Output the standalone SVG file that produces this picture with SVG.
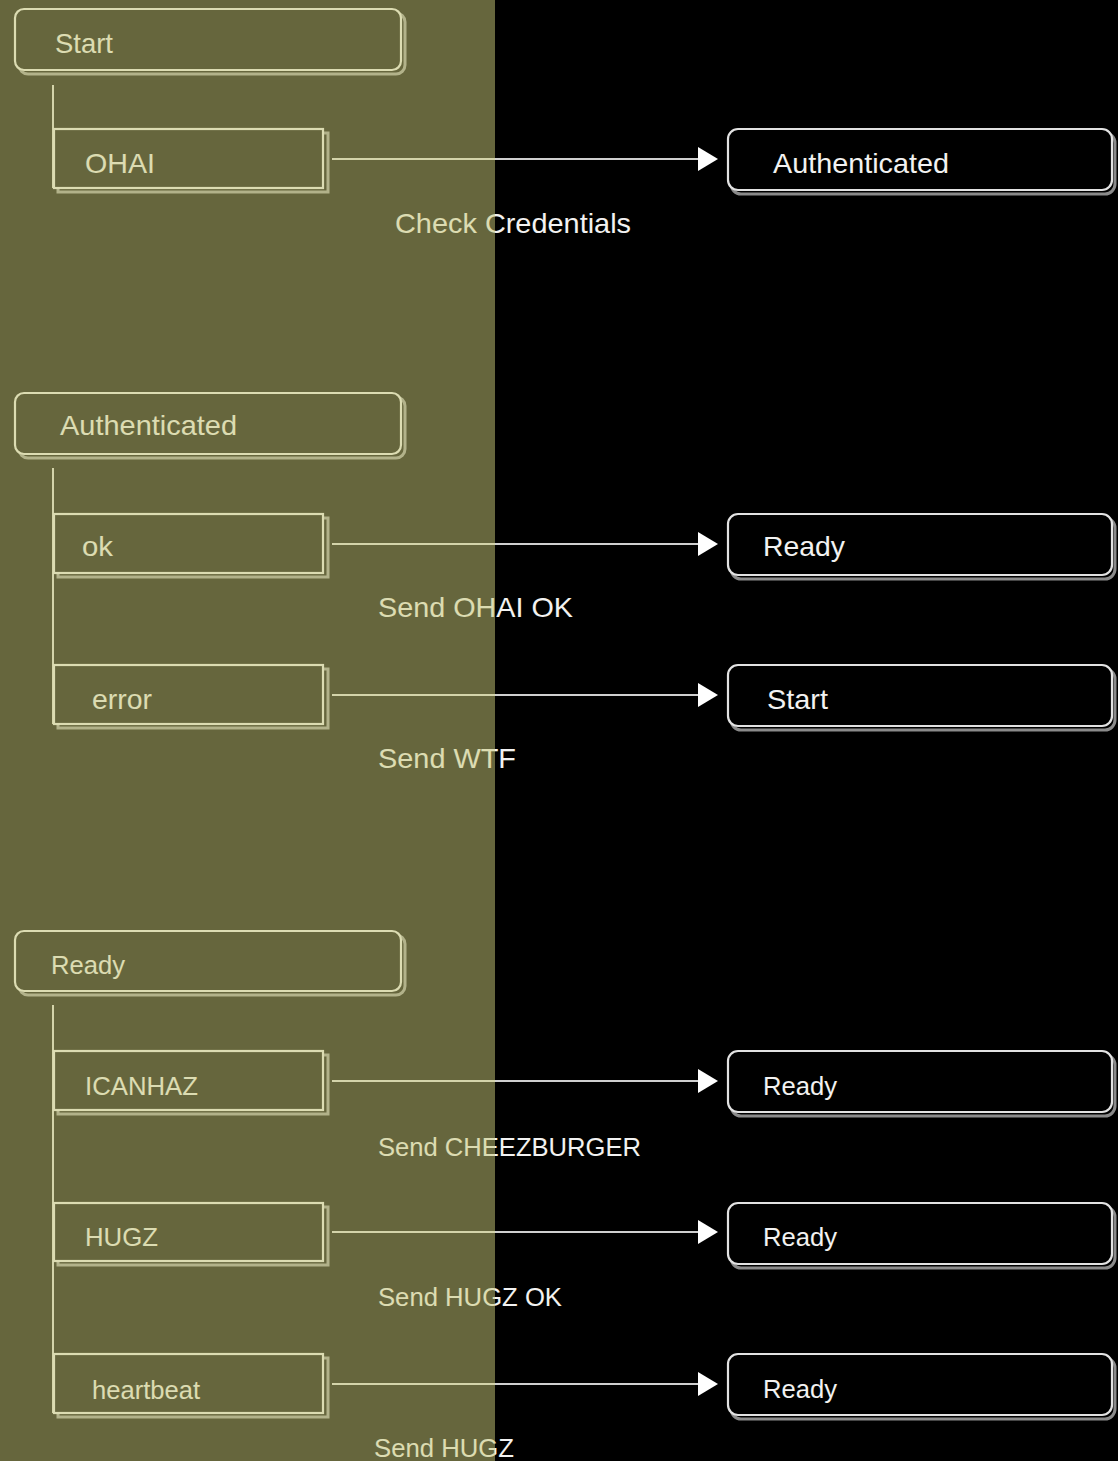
<svg xmlns="http://www.w3.org/2000/svg" width="1118" height="1461" viewBox="0 0 1118 1461">
<defs>
<linearGradient id="fg" gradientUnits="userSpaceOnUse" x1="0" y1="0" x2="1118" y2="0">
<stop offset="0" stop-color="#dcdcb2"/><stop offset="0.4428" stop-color="#dcdcb2"/>
<stop offset="0.4428" stop-color="#f2f2f2"/><stop offset="1" stop-color="#f2f2f2"/>
</linearGradient>
<linearGradient id="ln" gradientUnits="userSpaceOnUse" x1="0" y1="0" x2="1118" y2="0">
<stop offset="0" stop-color="#d4d4aa"/><stop offset="0.4428" stop-color="#d4d4aa"/>
<stop offset="0.4428" stop-color="#cfcfcf"/><stop offset="1" stop-color="#cfcfcf"/>
</linearGradient>
<marker id="arr" viewBox="0 0 20 24" refX="0" refY="12" markerWidth="20" markerHeight="24" markerUnits="userSpaceOnUse" orient="auto">
<path d="M0,0 L20,12 L0,24 Z" fill="#ffffff"/>
</marker>
<style>
text{font-family:"Liberation Sans",Arial,sans-serif;fill:url(#fg);}
.t28{font-size:28px;}
.t25{font-size:25px;}
.lshadow{fill:none;stroke:#b2b28a;stroke-width:3;}
.lmain{fill:#66663d;stroke:#dcdcb2;stroke-width:2.2;}
.rshadow{fill:none;stroke:#8a8a8a;stroke-width:3;}
.rmain{fill:#000;stroke:#e2e2e2;stroke-width:2.2;}
.tree{stroke:#d4d4aa;stroke-width:2;fill:none;}
.conn{stroke:url(#ln);stroke-width:2;fill:none;}
</style>
</defs>
<rect x="0" y="0" width="495" height="1461" fill="#66663d"/>
<rect x="495" y="0" width="623" height="1461" fill="#000000"/>

<g id="connectors">
<path class="tree" d="M53,85 V188 M53,468 V724 M53,1005 V1413"/>
<line class="conn" x1="332" y1="159" x2="698" y2="159" marker-end="url(#arr)"/>
<line class="conn" x1="332" y1="544" x2="698" y2="544" marker-end="url(#arr)"/>
<line class="conn" x1="332" y1="695" x2="698" y2="695" marker-end="url(#arr)"/>
<line class="conn" x1="332" y1="1081" x2="698" y2="1081" marker-end="url(#arr)"/>
<line class="conn" x1="332" y1="1232" x2="698" y2="1232" marker-end="url(#arr)"/>
<line class="conn" x1="332" y1="1384" x2="698" y2="1384" marker-end="url(#arr)"/>
<text class="t28" x="395" y="233" textLength="236" lengthAdjust="spacingAndGlyphs">Check Credentials</text>
<text class="t28" x="378" y="617" textLength="195" lengthAdjust="spacingAndGlyphs">Send OHAI OK</text>
<text class="t28" x="378" y="768" textLength="138" lengthAdjust="spacingAndGlyphs">Send WTF</text>
<text class="t25" x="378" y="1156" textLength="263" lengthAdjust="spacingAndGlyphs">Send CHEEZBURGER</text>
<text class="t25" x="378" y="1306" textLength="184" lengthAdjust="spacingAndGlyphs">Send HUGZ OK</text>
<text class="t25" x="374" y="1457" textLength="140" lengthAdjust="spacingAndGlyphs">Send HUGZ</text>
</g>

<g id="state-start">
<rect class="lshadow" x="19" y="13" width="386" height="61" rx="9"/>
<rect class="lmain" x="15" y="9" width="386" height="61" rx="9"/>
<text class="t28" x="55" y="53" textLength="58" lengthAdjust="spacingAndGlyphs">Start</text>
</g>
<g id="ev-ohai">
<rect class="lshadow" x="58" y="133" width="270" height="59"/>
<rect class="lmain" x="54" y="129" width="269" height="59"/>
<text class="t28" x="85" y="173" textLength="70" lengthAdjust="spacingAndGlyphs">OHAI</text>
</g>
<g id="to-authenticated">
<rect class="rshadow" x="731" y="133" width="384" height="61" rx="10"/>
<rect class="rmain" x="728" y="129" width="384" height="61" rx="10"/>
<text class="t28" x="773" y="173" textLength="176" lengthAdjust="spacingAndGlyphs">Authenticated</text>
</g>

<g id="state-authenticated">
<rect class="lshadow" x="19" y="397" width="386" height="61" rx="9"/>
<rect class="lmain" x="15" y="393" width="386" height="61" rx="9"/>
<text class="t28" x="60" y="435" textLength="177" lengthAdjust="spacingAndGlyphs">Authenticated</text>
</g>
<g id="ev-ok">
<rect class="lshadow" x="58" y="518" width="270" height="59"/>
<rect class="lmain" x="54" y="514" width="269" height="59"/>
<text class="t28" x="82" y="556" textLength="31" lengthAdjust="spacingAndGlyphs">ok</text>
</g>
<g id="to-ready-1">
<rect class="rshadow" x="731" y="518" width="384" height="61" rx="10"/>
<rect class="rmain" x="728" y="514" width="384" height="61" rx="10"/>
<text class="t28" x="763" y="556" textLength="82" lengthAdjust="spacingAndGlyphs">Ready</text>
</g>
<g id="ev-error">
<rect class="lshadow" x="58" y="669" width="270" height="59"/>
<rect class="lmain" x="54" y="665" width="269" height="59"/>
<text class="t28" x="92" y="709" textLength="60" lengthAdjust="spacingAndGlyphs">error</text>
</g>
<g id="to-start">
<rect class="rshadow" x="731" y="669" width="384" height="61" rx="10"/>
<rect class="rmain" x="728" y="665" width="384" height="61" rx="10"/>
<text class="t28" x="767" y="709" textLength="61" lengthAdjust="spacingAndGlyphs">Start</text>
</g>

<g id="state-ready">
<rect class="lshadow" x="19" y="935" width="386" height="60" rx="9"/>
<rect class="lmain" x="15" y="931" width="386" height="60" rx="9"/>
<text class="t25" x="51" y="974" textLength="74" lengthAdjust="spacingAndGlyphs">Ready</text>
</g>
<g id="ev-icanhaz">
<rect class="lshadow" x="58" y="1055" width="270" height="59"/>
<rect class="lmain" x="54" y="1051" width="269" height="59"/>
<text class="t25" x="85" y="1095" textLength="113" lengthAdjust="spacingAndGlyphs">ICANHAZ</text>
</g>
<g id="to-ready-2">
<rect class="rshadow" x="731" y="1055" width="384" height="61" rx="10"/>
<rect class="rmain" x="728" y="1051" width="384" height="61" rx="10"/>
<text class="t25" x="763" y="1095" textLength="74" lengthAdjust="spacingAndGlyphs">Ready</text>
</g>
<g id="ev-hugz">
<rect class="lshadow" x="58" y="1207" width="270" height="58"/>
<rect class="lmain" x="54" y="1203" width="269" height="58"/>
<text class="t25" x="85" y="1246" textLength="73" lengthAdjust="spacingAndGlyphs">HUGZ</text>
</g>
<g id="to-ready-3">
<rect class="rshadow" x="731" y="1207" width="384" height="61" rx="10"/>
<rect class="rmain" x="728" y="1203" width="384" height="61" rx="10"/>
<text class="t25" x="763" y="1246" textLength="74" lengthAdjust="spacingAndGlyphs">Ready</text>
</g>
<g id="ev-heartbeat">
<rect class="lshadow" x="58" y="1358" width="270" height="59"/>
<rect class="lmain" x="54" y="1354" width="269" height="59"/>
<text class="t25" x="92" y="1399" textLength="108" lengthAdjust="spacingAndGlyphs">heartbeat</text>
</g>
<g id="to-ready-4">
<rect class="rshadow" x="731" y="1358" width="384" height="61" rx="10"/>
<rect class="rmain" x="728" y="1354" width="384" height="61" rx="10"/>
<text class="t25" x="763" y="1398" textLength="74" lengthAdjust="spacingAndGlyphs">Ready</text>
</g>
</svg>
